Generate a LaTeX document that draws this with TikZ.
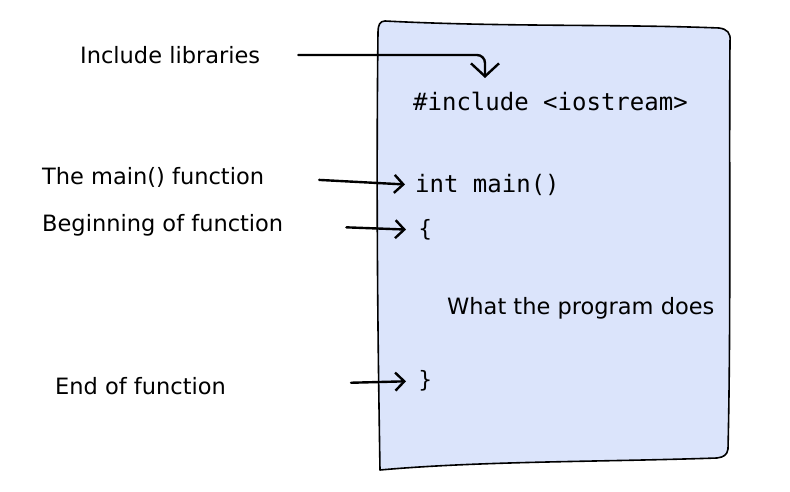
\documentclass[tikz,border=0pt]{standalone}
\usepackage{fontspec}
\setmainfont{DejaVu Sans}
\setmonofont{DejaVu Sans Mono}
\usetikzlibrary{arrows.meta}
\definecolor{paper}{RGB}{219,228,251}

\begin{document}
\begin{tikzpicture}[x=1pt,y=-1pt,
  lbl/.style = {anchor=west, inner sep=0pt, font=\fontsize{22.5}{26}\selectfont},
  code/.style = {anchor=west, inner sep=0pt, font=\fontsize{24}{28}\ttfamily},
  arr/.style = {line width=2.4pt, line cap=round, -{Straight Barb[length=9pt,width=18pt,line width=2.4pt]}},
  box/.style = {draw, line width=1.6pt, fill=paper, line join=round}]
  \useasboundingbox (0,0) rectangle (790,492);
  \draw[box] (385,21) .. controls (500,27) and (620,24) .. (719,28) .. controls (727,29) and (731,33) .. (730,41)
    .. controls (729,180) and (731,320) .. (728,449) .. controls (727,455) and (724,457) .. (717,458)
    .. controls (600,462) and (480,461) .. (380,470) .. controls (378,350) and (376,200) .. (378,32)
    .. controls (378,25) and (380,21) .. (385,21) -- cycle;
  \node[lbl] (lib) at (80,55) {Include libraries};
  \node[lbl] (fn) at (42,177) {The main() function};
  \node[lbl] (beg) at (42,225) {Beginning of function};
  \node[lbl] (end) at (55,386) {End of function};
  \node[code] (incl) at (413,101) {\#include <iostream>};
  \node[code] (mainf) at (415,185) {int main()};
  \node[lbl] (open) at (418,230) {\{};
  \node[lbl] (does) at (447,308) {What the program does};
  \node[lbl] (close) at (418,381) {\}};
  \coordinate (libend) at (485,78);
  \draw[arr, rounded corners=8pt, shorten <=38pt, -{Straight Barb[length=13pt,width=28pt,line width=2.4pt]}] (lib.east) -- (libend |- lib.east) -- (libend);
  \draw[arr, shorten <=55pt, shorten >=10pt] (fn.east) -- (mainf.west);
  \draw[arr, shorten <=63pt, shorten >=12pt] (beg.east) -- (open.west);
  \draw[arr, shorten <=125pt, shorten >=12pt] (end.east) -- (close.west);
\end{tikzpicture}
\end{document}
